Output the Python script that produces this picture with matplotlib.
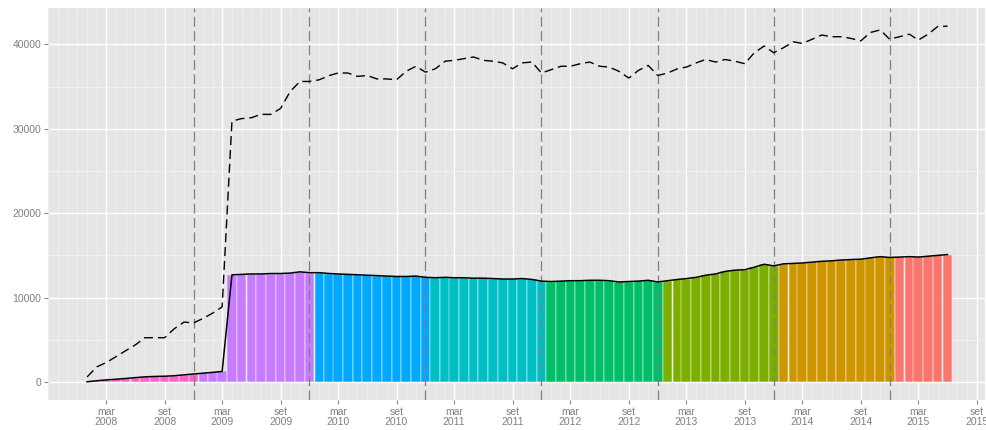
import matplotlib
matplotlib.use("Agg")
import matplotlib.pyplot as plt
import matplotlib.dates as mdates
import pandas as pd
import numpy as np

# ---------------- data ----------------
start_month = "2008-01-01"
end_month = "2015-06-01"

bar_values = [
    # 2008
    30, 150, 250, 330, 420, 520, 610, 660, 690, 740, 850, 950,
    # 2009
    1050, 1150, 1250, 12700, 12750, 12800, 12800, 12850, 12850, 12900, 13050, 12950,
    # 2010
    12950, 12850, 12800, 12750, 12700, 12650, 12600, 12550, 12500, 12500, 12550, 12400,
    # 2011
    12350, 12400, 12350, 12350, 12300, 12300, 12250, 12200, 12200, 12250, 12150, 11950,
    # 2012
    11900, 11950, 12000, 12000, 12050, 12050, 12000, 11850, 11900, 11950, 12050, 11850,
    # 2013
    12000, 12150, 12250, 12400, 12650, 12800, 13100, 13250, 13300, 13600, 13950, 13750,
    # 2014
    14000, 14050, 14100, 14200, 14300, 14350, 14450, 14500, 14550, 14700, 14850, 14750,
    # 2015
    14800, 14850, 14800, 14900, 15000, 15100,
]

dashed_values = [
    # 2008
    600, 1800, 2300, 3000, 3700, 4400, 5250, 5250, 5250, 6300, 7100, 7000,
    # 2009
    7550, 8200, 8900, 30900, 31200, 31300, 31700, 31700, 32400, 34400, 35600, 35600,
    # 2010
    35800, 36300, 36600, 36600, 36200, 36300, 35900, 35900, 35800, 36800, 37400, 36700,
    # 2011
    37100, 38000, 38100, 38300, 38500, 38100, 38000, 37800, 37100, 37800, 37900, 36600,
    # 2012
    37000, 37400, 37400, 37700, 37900, 37400, 37300, 36800, 36000, 36900, 37500, 36300,
    # 2013
    36600, 37100, 37300, 37800, 38200, 37900, 38200, 38000, 37700, 39000, 39800, 39000,
    # 2014
    39600, 40300, 40100, 40600, 41100, 40900, 40900, 40700, 40400, 41400, 41700, 40600,
    # 2015
    40900, 41200, 40500, 41200, 42100, 42150,
]

year_colors = {
    2008: "#FF61CC", 2009: "#C77CFF", 2010: "#00A9FF", 2011: "#00BFC4",
    2012: "#00BE67", 2013: "#7CAE00", 2014: "#CD9600", 2015: "#F8766D",
}

vline_dates = ["2008-12-01", "2009-12-01", "2010-12-01", "2011-12-01",
               "2012-12-01", "2013-12-01", "2014-12-01"]

xtick_dates = ["2008-03-01", "2008-09-01", "2009-03-01", "2009-09-01",
               "2010-03-01", "2010-09-01", "2011-03-01", "2011-09-01",
               "2012-03-01", "2012-09-01", "2013-03-01", "2013-09-01",
               "2014-03-01", "2014-09-01", "2015-03-01", "2015-09-01"]
xtick_labels = ["mar\n2008", "set\n2008", "mar\n2009", "set\n2009",
                "mar\n2010", "set\n2010", "mar\n2011", "set\n2011",
                "mar\n2012", "set\n2012", "mar\n2013", "set\n2013",
                "mar\n2014", "set\n2014", "mar\n2015", "set\n2015"]

yticks = [0, 10000, 20000, 30000, 40000]
ytick_labels = ["0", "10000", "20000", "30000", "40000"]

# ---------------- plot ----------------
months = pd.date_range(start_month, end_month, freq="MS")
xnum = mdates.date2num(months.to_pydatetime())
colors = [year_colors[y] for y in months.year]

plt.rcParams["font.family"] = ["Liberation Sans", "DejaVu Sans"]

fig = plt.figure(figsize=(9.87, 4.30), dpi=100)
ax = fig.add_axes([48 / 987, 30 / 430, 937 / 987, 392 / 430])
ax.set_facecolor("#E5E5E5")
for s in ax.spines.values():
    s.set_visible(False)

# grids
minor_months = pd.date_range("2007-09-01", "2015-09-01", freq="MS")
ax.set_xticks(mdates.date2num(pd.to_datetime(xtick_dates).to_pydatetime()))
ax.set_xticklabels(xtick_labels, linespacing=1.0)
ax.set_xticks(mdates.date2num(minor_months.to_pydatetime()), minor=True)
ax.set_yticks(yticks)
ax.set_yticklabels(ytick_labels)
ax.set_yticks([5000, 15000, 25000, 35000], minor=True)
ax.grid(which="major", color="white", lw=1.0, zorder=0)
ax.grid(which="minor", color="#F2F2F2", lw=0.5, zorder=0)
ax.set_axisbelow(True)

ax.bar(xnum, bar_values, width=30.4, color=colors, edgecolor="white",
       linewidth=0.35, zorder=2)
ax.plot(xnum, bar_values, color="black", lw=1.1, zorder=4)
ax.plot(xnum, dashed_values, color="black", lw=1.0, ls=(0, (6.5, 3.5)), zorder=4)

for d in vline_dates:
    ax.axvline(mdates.date2num(pd.Timestamp(d).to_pydatetime()),
               color="#7F7F7F", lw=0.9, ls=(0, (8, 3.5)), zorder=3)

ax.set_xlim(mdates.date2num(pd.Timestamp("2007-08-31").to_pydatetime()),
            mdates.date2num(pd.Timestamp("2015-09-27").to_pydatetime()))
ax.set_ylim(-2130, 44300)

ax.tick_params(which="major", length=3, width=0.7, color="#7F7F7F",
               labelcolor="#808080", labelsize=7.5, pad=2)
ax.tick_params(which="minor", length=0)

fig.savefig("out.png", dpi=100)
